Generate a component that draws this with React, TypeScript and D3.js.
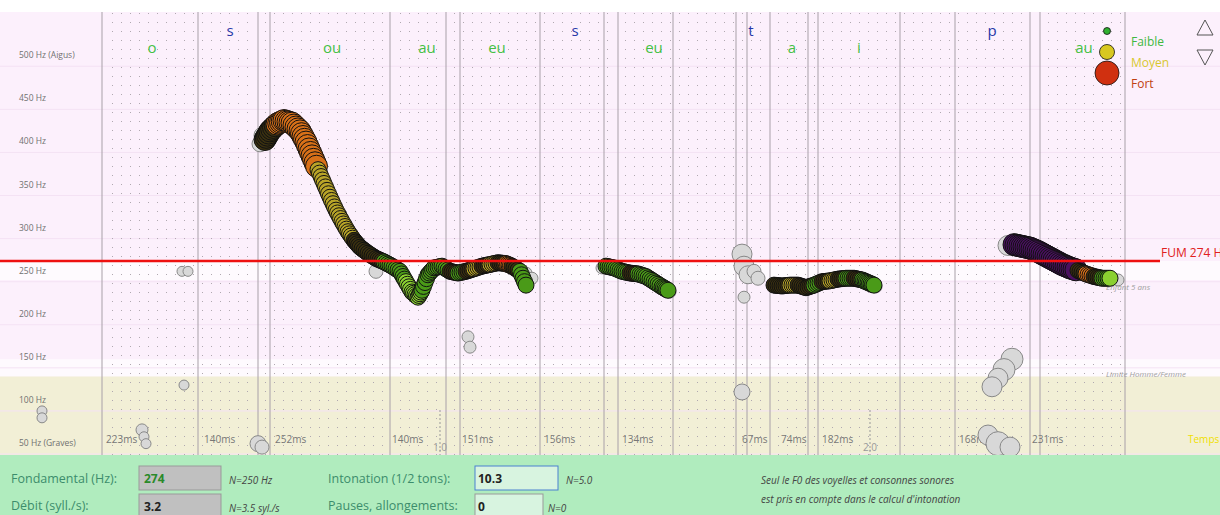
import React from "react";
import * as d3 from "d3";

// Time axis in ms (segment boundaries)
const boundaries = [0, 96, 156, 168, 288, 344, 358, 438, 502, 516, 571, 634, 645, 668, 706, 716, 798, 853, 928, 938, 1023];
const phonemes = [
  { t: 50, label: "o", vowel: true }, { t: 128, label: "s", vowel: false },
  { t: 230, label: "ou", vowel: true }, { t: 325, label: "au", vowel: true },
  { t: 395, label: "eu", vowel: true }, { t: 473, label: "s", vowel: false },
  { t: 552, label: "eu", vowel: true }, { t: 649, label: "t", vowel: false },
  { t: 690, label: "a", vowel: true }, { t: 757, label: "i", vowel: true },
  { t: 890, label: "p", vowel: false }, { t: 982, label: "au", vowel: true },
];
const durations = [
  { t: 2, label: "223ms" }, { t: 100, label: "140ms" }, { t: 171, label: "252ms" },
  { t: 288, label: "140ms" }, { t: 358, label: "151ms" }, { t: 440, label: "156ms" },
  { t: 518, label: "134ms" }, { t: 638, label: "67ms" }, { t: 677, label: "74ms" },
  { t: 718, label: "182ms" }, { t: 855, label: "168ms" }, { t: 928, label: "231ms" },
];
const hzTicks = [500, 450, 400, 350, 300, 250, 200, 150, 100, 50];
const hzLabels = ["500 Hz (Aigus)", "450 Hz", "400 Hz", "350 Hz", "300 Hz", "250 Hz", "200 Hz", "150 Hz", "100 Hz", "50 Hz (Graves)"];

// Voiced contour points: [t(ms), Hz, intensity class]
const contour1: [number, number, string][] = [
  [163, 415, "d"], [168, 425, "d"], [175, 433, "o"], [182, 437, "o"], [190, 434, "o"], [198, 425, "o"],
  [204, 412, "o"], [210, 396, "o"], [216, 380, "y"], [222, 364, "y"], [228, 348, "y"], [234, 333, "y"],
  [240, 320, "y"], [246, 308, "y"], [252, 298, "d"], [258, 290, "d"], [266, 283, "d"], [274, 277, "d"],
  [282, 273, "g"], [290, 268, "g"], [298, 262, "g"], [304, 250, "G"], [310, 238, "G"], [316, 232, "G"],
  [320, 240, "g"], [326, 258, "g"], [332, 266, "g"], [340, 268, "g"], [348, 262, "d"], [356, 260, "g"],
  [364, 262, "d"], [372, 265, "y"], [380, 268, "d"], [388, 270, "y"], [396, 272, "d"], [404, 271, "o"],
  [410, 268, "d"], [418, 262, "g"], [424, 246, "g"],
];
const contour2: [number, number, string][] = [
  [504, 268, "g"], [512, 266, "g"], [520, 262, "g"], [528, 260, "d"], [536, 259, "g"], [544, 256, "g"],
  [552, 250, "g"], [560, 244, "g"], [566, 240, "g"],
];
const contour3: [number, number, string][] = [
  [672, 246, "d"], [680, 245, "d"], [688, 246, "y"], [696, 246, "d"], [704, 243, "d"], [712, 246, "g"],
  [720, 250, "d"], [728, 251, "y"], [736, 253, "d"], [744, 254, "g"], [752, 254, "d"], [760, 252, "g"],
  [766, 249, "g"], [772, 246, "g"],
];
const contour4: [number, number, string][] = [
  [912, 293, "p"], [920, 291, "p"], [928, 289, "p"], [936, 285, "p"], [944, 280, "p"], [952, 275, "p"],
  [960, 270, "p"], [968, 266, "p"], [976, 263, "d"], [984, 259, "o"], [992, 256, "d"], [1000, 254, "g"],
  [1008, 254, "G"],
];
// Unvoiced / uncertain points: [t, Hz, radius]
const grayPts: [number, number, number][] = [
  [80, 262, 5], [86, 262, 5], [82, 130, 5], [-60, 100, 5], [-60, 92, 5], [40, 78, 6], [42, 70, 5],
  [44, 62, 5], [156, 62, 8], [160, 58, 7], [158, 410, 8], [160, 420, 8], [424, 260, 6], [430, 254, 6],
  [366, 186, 6], [368, 174, 6], [274, 262, 7], [500, 266, 6], [568, 238, 6], [640, 282, 10], [642, 268, 10],
  [646, 258, 9], [652, 262, 7], [656, 254, 7], [642, 232, 6], [640, 122, 8], [774, 244, 6], [906, 292, 10],
  [910, 160, 11], [902, 148, 11], [896, 138, 10], [890, 128, 10], [886, 72, 10], [896, 62, 12],
  [908, 58, 10], [1016, 252, 6],
];

const W = 1220, H = 515;

export default function App() {
  const x = d3.scaleLinear().domain([0, 1023]).range([102, 1125]);
  const y = d3.scaleLinear().domain([274, 50]).range([261, 454]);
  const fills: Record<string, string> = { o: "#d87018", y: "#b8a428", d: "#3a3010", g: "#4a9a18", G: "#8ad030", p: "#4a1060" };
  const contours = [contour1, contour2, contour3, contour4];
  return (
    <svg width={W} height={H} style={{ position: "absolute", left: 0, top: 0, fontFamily: "'Open Sans', sans-serif" }}>
      <defs>
        <pattern id="dots" width="9" height="9" patternUnits="userSpaceOnUse">
          <rect x="4" y="4" width="1" height="1" fill="#b0a8b0" />
        </pattern>
        <clipPath id="clip"><rect x="0" y="12" width={W} height={443} /></clipPath>
      </defs>
      <rect x={0} y={0} width={W} height={H} fill="#fff" />
      <rect x={0} y={12} width={W} height={y(140) - 12} fill="#fcf0fc" />
      <rect x={0} y={y(274)} width={W} height={y(252) - y(274)} fill="#fefafe" />
      <rect x={0} y={y(160)} width={W} height={y(140) - y(160)} fill="#fefafe" />
      <rect x={0} y={y(140)} width={W} height={455 - y(140)} fill="#f2efd6" />
      {hzTicks.map((v) => (
        <line key={v} x1={0} x2={W} y1={y(v)} y2={y(v)} stroke="#f4e2f4" strokeWidth={1} />
      ))}
      {boundaries.slice(0, -1).map((b, i) => (
        <rect key={i} x={x(b) + 2} y={12} width={Math.max(0, x(boundaries[i + 1]) - x(b) - 4)} height={443} fill="url(#dots)" />
      ))}
      {boundaries.map((b, i) => (
        <line key={i} x1={x(b)} x2={x(b)} y1={12} y2={455} stroke="#a8a0a8" strokeWidth={1} />
      ))}
      {hzTicks.map((v, i) => (
        <text key={v} x={19} y={y(v) - 8} fontSize={8.5} fill="#707070">{hzLabels[i]}</text>
      ))}
      {phonemes.map((p, i) => (
        <text key={i} x={x(p.t)} y={p.vowel ? 53 : 36} textAnchor="middle" fontSize={15}
          fill={p.vowel ? "#44c044" : "#2838a8"}>{p.label}</text>
      ))}
      {durations.map((d, i) => (
        <text key={i} x={x(d.t) + 2} y={443} fontSize={10} fill="#777">{d.label}</text>
      ))}
      {[{ t: 338, l: "1.0" }, { t: 768, l: "2.0" }].map((m) => (
        <g key={m.l}>
          <line x1={x(m.t)} x2={x(m.t)} y1={410} y2={455} stroke="#999" strokeDasharray="2,2" />
          <text x={x(m.t) - 7} y={451} fontSize={10} fill="#999">{m.l}</text>
        </g>
      ))}
      <text x={1188} y={443} fontSize={10} fill="#f0e000">Temps</text>
      <text x={1106} y={290} fontSize={8} fontStyle="italic" fill="#a0a0a0">Enfant 5 ans</text>
      <text x={1106} y={377} fontSize={8} fontStyle="italic" fill="#a0a0a0">Limite Homme/Femme</text>
      <g clipPath="url(#clip)">
        {grayPts.map((p, i) => (
          <circle key={i} cx={x(p[0])} cy={y(p[1])} r={p[2]} fill="#d8d8d8" stroke="#888" strokeWidth={1} />
        ))}
        {contours.map((c, ci) => {
          const pts: [number, number, string][] = [];
          for (let k = 0; k < c.length - 1; k++) {
            for (let s = 0; s < 4; s++) {
              const f = s / 4;
              pts.push([c[k][0] + (c[k + 1][0] - c[k][0]) * f, c[k][1] + (c[k + 1][1] - c[k][1]) * f, c[k][2]]);
            }
          }
          pts.push(c[c.length - 1]);
          return (
            <g key={ci}>
              {pts.map((p, i) => (
                <circle key={i} cx={x(p[0])} cy={y(p[1])}
                  r={p[2] === "G" ? 8 : ci === 0 && p[0] < 215 ? 11 : ci === 3 && p[0] < 975 ? 11 : 8}
                  fill={fills[p[2]]} stroke="#111" strokeWidth={1} />
              ))}
            </g>
          );
        })}
      </g>
      <line x1={0} x2={1160} y1={y(274)} y2={y(274)} stroke="#ee1010" strokeWidth={2.5} />
      <text x={1161} y={y(274) - 4} fontSize={12} fill="#e02020">FUM 274 Hz</text>
      <circle cx={1107} cy={31} r={3.5} fill="#30b030" stroke="#111" strokeWidth={0.8} />
      <circle cx={1107} cy={52} r={7.5} fill="#d8c820" stroke="#111" strokeWidth={0.8} />
      <circle cx={1107} cy={73} r={12} fill="#d03010" stroke="#111" strokeWidth={0.8} />
      <text x={1131} y={46} fontSize={12} fill="#40b840">Faible</text>
      <text x={1131} y={67} fontSize={12} fill="#d8c830">Moyen</text>
      <text x={1131} y={88} fontSize={12} fill="#c04010">Fort</text>
      <path d="M1205,20 L1197,35 L1213,35 Z" fill="none" stroke="#555" />
      <path d="M1197,50 L1213,50 L1205,65 Z" fill="none" stroke="#555" />
      <rect x={0} y={455} width={W} height={60} fill="#b0ecbe" />
      <g fontSize={12.5} fill="#3c8c6c">
        <text x={11} y={483}>Fondamental (Hz):</text>
        <text x={11} y={510}>Débit (syll./s):</text>
        <text x={328} y={483}>Intonation (1/2 tons):</text>
        <text x={328} y={510}>Pauses, allongements:</text>
      </g>
      <rect x={139} y={466} width={82} height={24} fill="#c0c0c0" stroke="#999" />
      <rect x={139} y={494} width={82} height={24} fill="#c0c0c0" stroke="#999" />
      <rect x={475} y={466} width={83} height={24} fill="#d8f4e0" stroke="#4a80d0" />
      <rect x={475} y={494} width={68} height={24} fill="#d8f4e0" stroke="#999" />
      <text x={144} y={483} fontSize={12} fontWeight="bold" fill="#2a8a2a">274</text>
      <text x={144} y={511} fontSize={12} fontWeight="bold" fill="#222">3.2</text>
      <text x={478} y={483} fontSize={12} fontWeight="bold" fill="#222">10.3</text>
      <text x={478} y={511} fontSize={12} fontWeight="bold" fill="#222">0</text>
      <g fontSize={10} fontStyle="italic" fill="#444">
        <text x={229} y={484}>N=250 Hz</text>
        <text x={229} y={512}>N=3.5 syl./s</text>
        <text x={566} y={484}>N=5.0</text>
        <text x={548} y={512}>N=0</text>
        <text x={761} y={484}>Seul le F0 des voyelles et consonnes sonores</text>
        <text x={761} y={503}>est pris en compte dans le calcul d'intonation</text>
      </g>
    </svg>
  );
}
